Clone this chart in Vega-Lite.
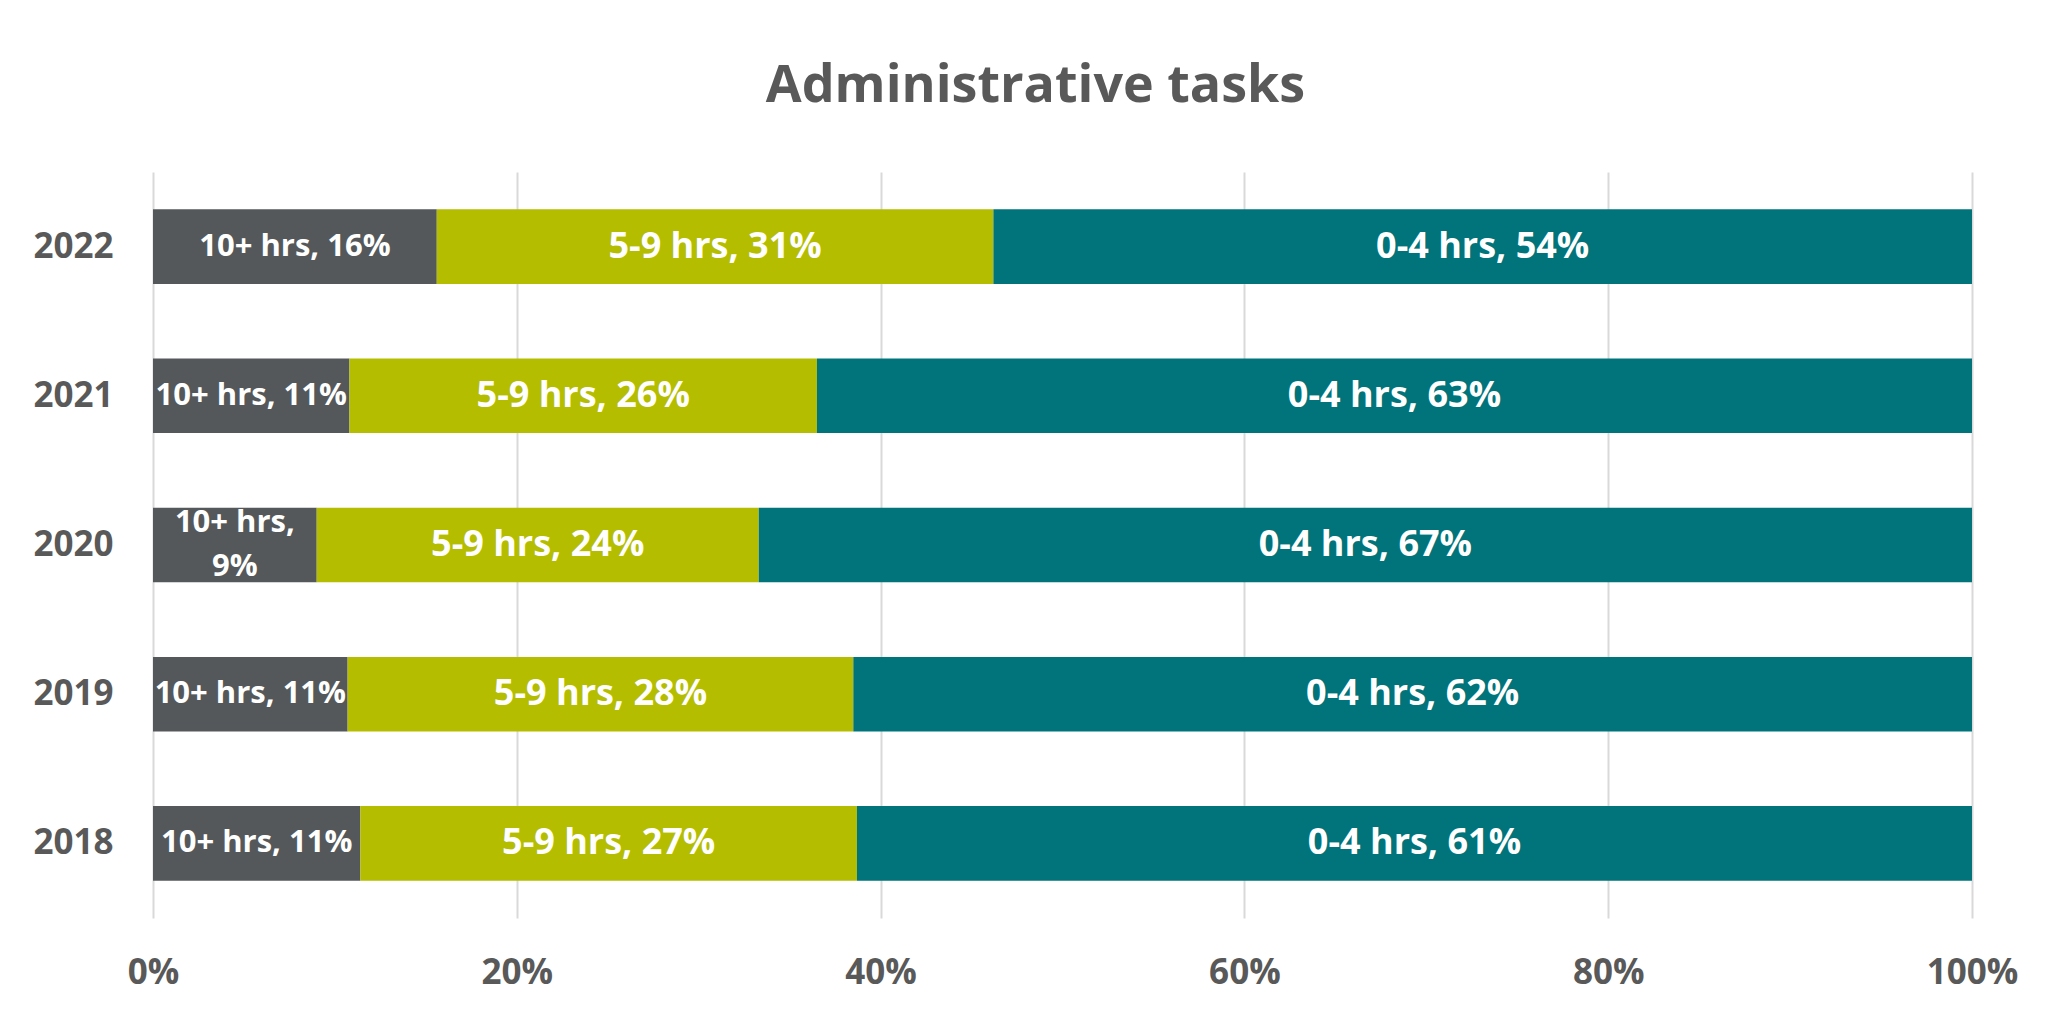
{
  "$schema": "https://vega.github.io/schema/vega-lite/v6.json",
  "width": 1819,
  "height": 746,
  "autosize": {"type": "none"},
  "padding": {"left": 153, "top": 172, "right": 99, "bottom": 108},
  "background": "white",
  "config": {"view": {"stroke": null}},
  "title": {
    "text": "Administrative tasks",
    "font": "Open Sans",
    "fontSize": 52,
    "fontWeight": "bold",
    "color": "#595959",
    "anchor": "middle",
    "baseline": "alphabetic",
    "dx": -27,
    "offset": 18
  },
  "data": {
    "values": [
      {"year": "2022", "cat": "10+ hrs", "order": 1, "value": 0.156, "label": "10+ hrs, 16%"},
      {"year": "2022", "cat": "5-9 hrs", "order": 2, "value": 0.306, "label": "5-9 hrs, 31%"},
      {"year": "2022", "cat": "0-4 hrs", "order": 3, "value": 0.538, "label": "0-4 hrs, 54%"},
      {"year": "2021", "cat": "10+ hrs", "order": 1, "value": 0.108, "label": "10+ hrs, 11%"},
      {"year": "2021", "cat": "5-9 hrs", "order": 2, "value": 0.257, "label": "5-9 hrs, 26%"},
      {"year": "2021", "cat": "0-4 hrs", "order": 3, "value": 0.635, "label": "0-4 hrs, 63%"},
      {"year": "2020", "cat": "10+ hrs", "order": 1, "value": 0.090, "label": "10+ hrs,\n9%"},
      {"year": "2020", "cat": "5-9 hrs", "order": 2, "value": 0.243, "label": "5-9 hrs, 24%"},
      {"year": "2020", "cat": "0-4 hrs", "order": 3, "value": 0.667, "label": "0-4 hrs, 67%"},
      {"year": "2019", "cat": "10+ hrs", "order": 1, "value": 0.107, "label": "10+ hrs, 11%"},
      {"year": "2019", "cat": "5-9 hrs", "order": 2, "value": 0.278, "label": "5-9 hrs, 28%"},
      {"year": "2019", "cat": "0-4 hrs", "order": 3, "value": 0.615, "label": "0-4 hrs, 62%"},
      {"year": "2018", "cat": "10+ hrs", "order": 1, "value": 0.114, "label": "10+ hrs, 11%"},
      {"year": "2018", "cat": "5-9 hrs", "order": 2, "value": 0.273, "label": "5-9 hrs, 27%"},
      {"year": "2018", "cat": "0-4 hrs", "order": 3, "value": 0.613, "label": "0-4 hrs, 61%"}
    ]
  },
  "transform": [
    {"stack": "value", "groupby": ["year"], "sort": [{"field": "order", "order": "ascending"}], "as": ["x0", "x1"]},
    {"calculate": "(datum.x0 + datum.x1) / 2", "as": "mid"}
  ],
  "encoding": {
    "y": {
      "field": "year",
      "type": "ordinal",
      "sort": "descending",
      "scale": {"paddingInner": 0.5, "paddingOuter": 0.25},
      "axis": {
        "title": null,
        "domain": false,
        "ticks": false,
        "labelFont": "Open Sans",
        "labelFontSize": 35,
        "labelFontWeight": "bold",
        "labelColor": "#595959",
        "labelPadding": 40
      }
    }
  },
  "layer": [
    {
      "mark": {"type": "bar"},
      "encoding": {
        "x": {
          "field": "x0",
          "type": "quantitative",
          "scale": {"domain": [0, 1], "nice": false},
          "axis": {
            "title": null,
            "values": [0, 0.2, 0.4, 0.6, 0.8, 1],
            "format": ".0%",
            "domain": false,
            "ticks": false,
            "grid": true,
            "gridColor": "#d9d9d9",
            "gridWidth": 2,
            "labelFont": "Open Sans",
            "labelFontSize": 35,
            "labelFontWeight": "bold",
            "labelColor": "#595959",
            "labelPadding": 37,
            "labelFlush": false
          }
        },
        "x2": {"field": "x1"},
        "color": {
          "field": "cat",
          "type": "nominal",
          "scale": {"domain": ["10+ hrs", "5-9 hrs", "0-4 hrs"], "range": ["#54585A", "#B5BD00", "#00747A"]},
          "legend": null
        }
      }
    },
    {
      "transform": [{"filter": "indexof(datum.label, '\\n') < 0"}],
      "mark": {
        "type": "text",
        "font": "Open Sans",
        "fontWeight": "bold",
        "color": "white",
        "align": "center",
        "baseline": "middle"
      },
      "encoding": {
        "x": {"field": "mid", "type": "quantitative"},
        "text": {"field": "label"},
        "size": {"condition": {"test": "datum.cat == '10+ hrs'", "value": 31}, "value": 36}
      }
    },
    {
      "transform": [{"filter": "indexof(datum.label, '\\n') >= 0"}],
      "mark": {
        "type": "text",
        "font": "Open Sans",
        "fontSize": 31,
        "fontWeight": "bold",
        "color": "white",
        "align": "center",
        "baseline": "middle",
        "lineBreak": "\n",
        "lineHeight": 44,
        "dy": -22
      },
      "encoding": {
        "x": {"field": "mid", "type": "quantitative"},
        "text": {"field": "label"}
      }
    }
  ]
}
